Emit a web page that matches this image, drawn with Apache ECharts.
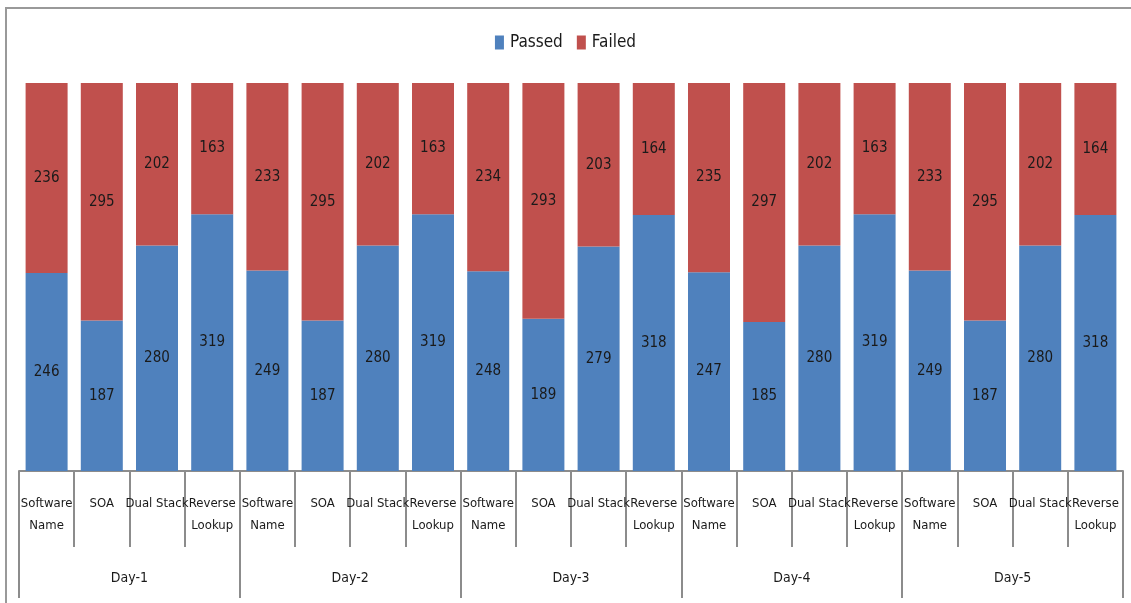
<!DOCTYPE html>
<html>
<head>
<meta charset="utf-8">
<title>Passed / Failed by test and day</title>
<script src="https://cdn.jsdelivr.net/npm/echarts@6/dist/echarts.min.js"></script>
<style>
  html, body { margin: 0; padding: 0; background: #fff; }
  #chart { width: 1131px; height: 603px; }
</style>
</head>
<body>
<div id="chart"></div>
<script>
// Test types run each day, and the days themselves
const tests = ['Software\nName', 'SOA', 'Dual Stack', 'Reverse\nLookup'];
const days = ['Day-1', 'Day-2', 'Day-3', 'Day-4', 'Day-5'];

// Counts per test, in day order (4 tests per day)
const passed = [246, 187, 280, 319,  249, 187, 280, 319,  248, 189, 279, 318,  247, 185, 280, 319,  249, 187, 280, 318];
const failed = [236, 295, 202, 163,  233, 295, 202, 163,  234, 293, 203, 164,  235, 297, 202, 163,  233, 295, 202, 164];

const categories = [];
days.forEach(() => tests.forEach(t => categories.push(t)));

const FONT = '"DejaVu Sans Condensed", "Liberation Sans Narrow", "Liberation Sans", sans-serif';
const TEXT = '#1a1a1a';
const LINE = '#8c8c8c';

const chart = echarts.init(document.getElementById('chart'), null, { renderer: 'canvas' });

chart.setOption({
  animation: false,
  textStyle: { fontFamily: FONT },
  graphic: [{
    type: 'rect',
    shape: { x: 6, y: 8, width: 1200, height: 700 },
    style: { fill: 'none', stroke: '#999', lineWidth: 2 },
    silent: true
  }],
  legend: {
    top: 29,
    left: 'center',
    icon: 'rect',
    itemWidth: 9,
    itemHeight: 14,
    itemGap: 14,
    itemStyle: { borderWidth: 0 },
    textStyle: { fontFamily: FONT, fontSize: 17, color: TEXT, padding: [0, 0, 0, 1] },
    data: ['Passed', 'Failed']
  },
  grid: { left: 19, right: 8, top: 83, bottom: 132, containLabel: false },
  xAxis: [
    {
      type: 'category',
      data: categories,
      position: 'bottom',
      axisLine: { show: true, lineStyle: { color: LINE, width: 2 } },
      axisTick: { show: true, interval: 0, length: 76, lineStyle: { color: LINE, width: 2 } },
      axisLabel: {
        interval: 0,
        margin: 22,
        fontFamily: FONT,
        fontSize: 13,
        lineHeight: 22,
        color: TEXT
      }
    },
    {
      type: 'category',
      data: days,
      position: 'bottom',
      axisLine: { show: false },
      axisTick: { show: true, interval: 0, length: 127, lineStyle: { color: LINE, width: 2 } },
      axisLabel: {
        interval: 0,
        margin: 100,
        fontFamily: FONT,
        fontSize: 14,
        color: TEXT
      }
    }
  ],
  yAxis: {
    type: 'value',
    min: 0,
    max: 482,
    show: false,
    splitLine: { show: false }
  },
  series: [
    {
      name: 'Passed',
      type: 'bar',
      stack: 'total',
      xAxisIndex: 0,
      barWidth: 42,
      data: passed,
      itemStyle: { color: '#4F81BD' },
      label: { show: true, position: 'inside', fontFamily: FONT, fontSize: 15, color: TEXT }
    },
    {
      name: 'Failed',
      type: 'bar',
      stack: 'total',
      xAxisIndex: 0,
      barWidth: 42,
      data: failed,
      itemStyle: { color: '#C0504D' },
      label: { show: true, position: 'inside', fontFamily: FONT, fontSize: 15, color: TEXT }
    }
  ]
});
</script>
</body>
</html>
